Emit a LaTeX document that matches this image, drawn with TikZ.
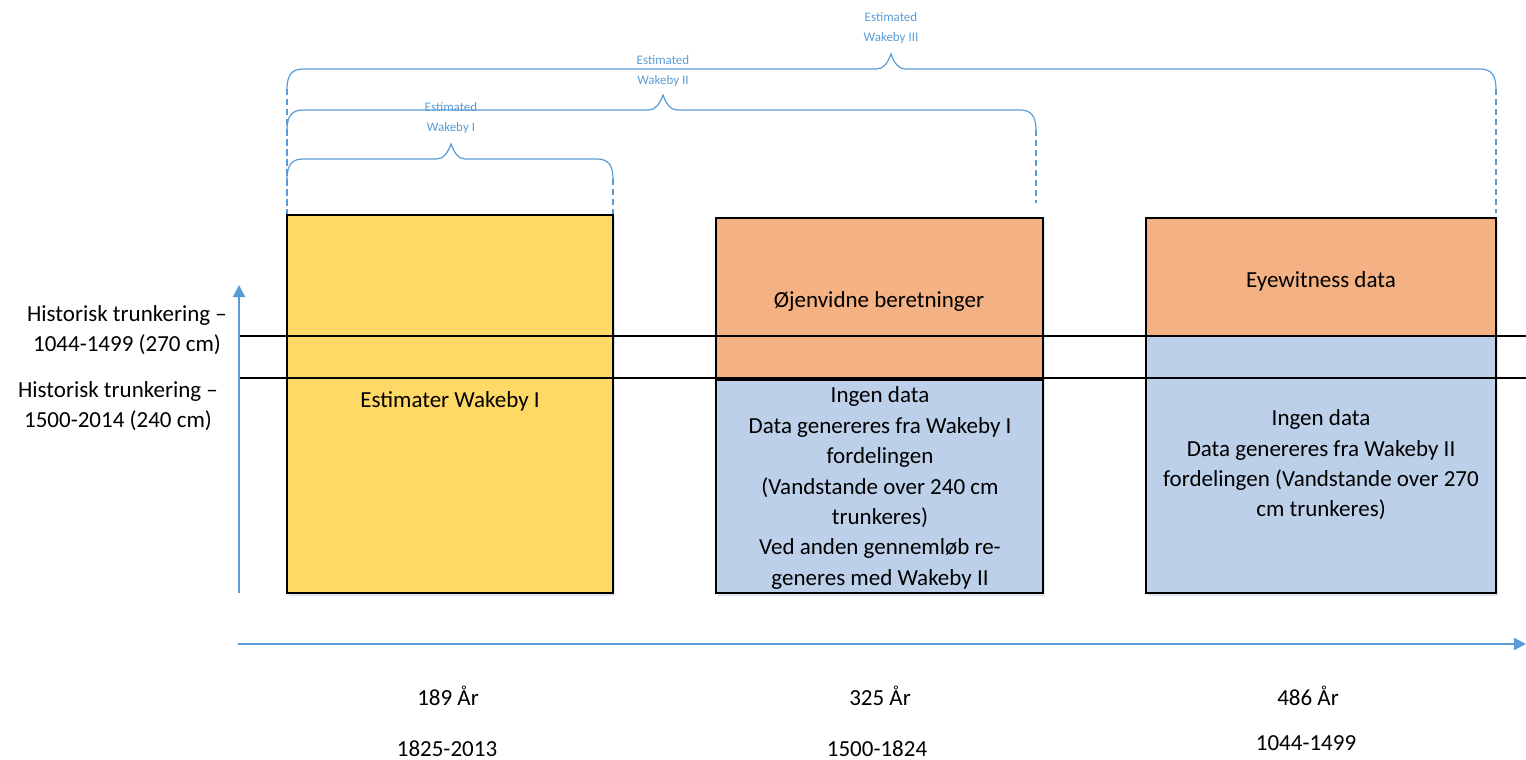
\documentclass[tikz,border=0pt]{standalone}
\usepackage{fontspec}
\setmainfont{Carlito}
\usetikzlibrary{arrows.meta,shadows}
\definecolor{axblue}{HTML}{5B9BD5}
\definecolor{goldc}{HTML}{FFD966}
\definecolor{orangec}{HTML}{F4B183}
\definecolor{bluec}{HTML}{BDD0E9}
\definecolor{shadowc}{HTML}{D5E1F0}
\newcommand{\wkbrace}[6]{%
  \draw[bracestyle] (#1,#4+20) .. controls (#1,#4+6) and (#1+5,#4) .. (#1+16,#4)
    -- (#3-14,#4) .. controls (#3-7,#4) and (#3-3,#4-7) .. (#3,#4-15)
    .. controls (#3+3,#4-7) and (#3+7,#4) .. (#3+14,#4)
    -- (#2-16,#4) .. controls (#2-5,#4) and (#2,#4+6) .. (#2,#4+20);
  \draw[bracedash] (#1,#4+20) -- (#1,#5);
  \draw[bracedash] (#2,#4+20) -- (#2,#6);
}
\tikzset{
  panel/.style={draw=black, line width=1.5pt, inner sep=0pt, rectangle,
    drop shadow={shadow xshift=2pt, shadow yshift=-3pt, fill=shadowc, opacity=0.8}},
  maintext/.style={font=\fontsize{23}{30.4}\selectfont, align=center, inner sep=0pt, text=black},
  smalltext/.style={font=\fontsize{13}{19.5}\selectfont, align=center, inner sep=0pt, text=axblue},
  bracestyle/.style={draw=axblue, line width=1.2pt},
  bracedash/.style={draw=axblue, line width=1.2pt, dash pattern=on 6pt off 4pt},
  axisline/.style={draw=axblue, line width=2pt, -{Triangle[length=12pt,width=12pt]}},
  levelline/.style={draw=black, line width=1.8pt}
}
\begin{document}
\begin{tikzpicture}[x=1pt,y=-1pt]
\useasboundingbox (0,0) rectangle (1526,760);

% boxes
\node[panel, fill=goldc, minimum width=326pt, minimum height=378pt] (yel) at (450,404) {};
\node[panel, fill=orangec, minimum width=327pt, minimum height=162pt] (midor) at (879.5,299) {};
\node[panel, fill=bluec, minimum width=327pt, minimum height=213pt] (midbl) at (879.5,486.5) {};
\node[panel, fill=orangec, minimum width=350pt, minimum height=118pt] (rior) at (1321,277) {};
\node[panel, fill=bluec, minimum width=350pt, minimum height=257pt] (ribl) at (1321,464.5) {};

% box texts
\node[maintext, anchor=base] (tyel) at (450,407) {Estimater Wakeby I};
\node[maintext, anchor=base] (tmidor) at (879,307) {Øjenvidne beretninger};
\node[maintext, anchor=base] (trior) at (1321,287) {Eyewitness data};
\node[maintext] (tmidbl) at (880,488) {Ingen data\\Data genereres fra Wakeby I\\fordelingen\\(Vandstande over 240 cm\\trunkeres)\\Ved anden gennemløb re-\\generes med Wakeby II};
\node[maintext] (tribl) at (1321,465) {Ingen data\\Data genereres fra Wakeby II\\fordelingen (Vandstande over 270\\cm trunkeres)};

% level lines
\coordinate (la) at (239,336);
\coordinate (lb) at (1526,336);
\coordinate (lc) at (239,378);
\coordinate (ld) at (1526,378);
\draw[levelline] (la) -- (lb);
\draw[levelline] (lc) -- (ld);

% axes
\coordinate (vo) at (239,593);
\coordinate (vt) at (239,285);
\coordinate (ho) at (238,644);
\coordinate (ht) at (1526,644);
\draw[axisline] (vo) -- (vt);
\draw[axisline] (ho) -- (ht);

% left labels
\node[maintext] (lab1) at (127,330) {Historisk trunkering –\\1044-1499 (270 cm)};
\node[maintext] (lab2) at (118,406) {Historisk trunkering –\\1500-2014 (240 cm)};

% bottom labels
\node[maintext, anchor=base] (y1) at (448,705) {189 År};
\node[maintext, anchor=base] (d1) at (447,756) {1825-2013};
\node[maintext, anchor=base] (y2) at (880,705) {325 År};
\node[maintext, anchor=base] (d2) at (877,756) {1500-1824};
\node[maintext, anchor=base] (y3) at (1308,705) {486 År};
\node[maintext, anchor=base] (d3) at (1306,750) {1044-1499};

% braces
\wkbrace{287}{1496}{891}{69}{214}{213}
\wkbrace{287}{1036}{663}{110}{214}{203}
\wkbrace{287}{613}{451}{159}{214}{214}

% brace labels
\node[smalltext] (b1) at (451,118) {Estimated\\Wakeby I};
\node[smalltext] (b2) at (663,71) {Estimated\\Wakeby II};
\node[smalltext] (b3) at (891,28) {Estimated\\Wakeby III};
\end{tikzpicture}
\end{document}
